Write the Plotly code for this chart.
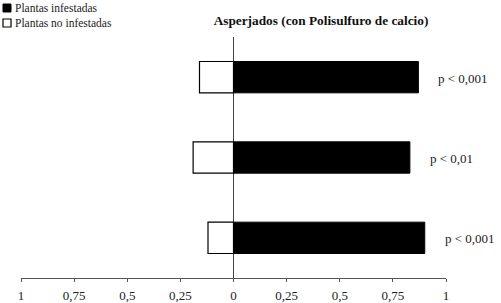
import plotly.graph_objects as go

categories = ["Muestreo 1", "Muestreo 2", "Muestreo 3"]
infestadas = [0.87, 0.83, 0.90]
no_infestadas = [0.16, 0.19, 0.12]
p_labels = ["p < 0,001", "p < 0,01", "p < 0,001"]
tick_vals = [-1, -0.75, -0.5, -0.25, 0, 0.25, 0.5, 0.75, 1]
tick_text = ["1", "0,75", "0,5", "0,25", "0", "0,25", "0,5", "0,75", "1"]
title_text = "Asperjados (con Polisulfuro de calcio)"
legend_names = ["Plantas infestadas", "Plantas no infestadas"]

FONT = "Liberation Serif"
W, H = 501, 303

fig = go.Figure()
fig.add_trace(go.Bar(
    y=categories, x=infestadas, orientation="h", name=legend_names[0],
    marker=dict(color="black", line=dict(color="black", width=1)),
    width=0.39, showlegend=False,
))
fig.add_trace(go.Bar(
    y=categories, x=[-v for v in no_infestadas], orientation="h", name=legend_names[1],
    marker=dict(color="white", line=dict(color="black", width=1.2)),
    width=0.39, showlegend=False,
))

for cat, v, lab in zip(categories, infestadas, p_labels):
    fig.add_annotation(x=v, y=cat, text=lab, showarrow=False, xanchor="left",
                       xshift=18, yshift=-1, font=dict(family=FONT, size=13, color="#222"))

# legend drawn manually (pixel positions converted to paper coords)
PL, PR, PT, PB = 21, 55, 37, 25
pw, ph = W - PL - PR, H - PT - PB
def px(x):
    return (x - PL) / pw
def py(y):
    return (H - PB - y) / ph

fig.add_shape(type="rect", xref="paper", yref="paper", x0=px(3), x1=px(11),
              y0=py(4), y1=py(12), fillcolor="black", line=dict(color="black", width=1))
fig.add_shape(type="rect", xref="paper", yref="paper", x0=px(3), x1=px(11),
              y0=py(19), y1=py(27), fillcolor="white", line=dict(color="black", width=1.2))
fig.add_annotation(xref="paper", yref="paper", x=px(13), y=py(8), text=legend_names[0],
                   showarrow=False, xanchor="left", yanchor="middle",
                   font=dict(family=FONT, size=11.5, color="#222"))
fig.add_annotation(xref="paper", yref="paper", x=px(13), y=py(23), text=legend_names[1],
                   showarrow=False, xanchor="left", yanchor="middle",
                   font=dict(family=FONT, size=11.5, color="#222"))

fig.update_layout(
    width=W, height=H,
    margin=dict(l=PL, r=PR, t=PT, b=PB, autoexpand=False),
    paper_bgcolor="white", plot_bgcolor="white",
    barmode="relative",
    font=dict(family=FONT, size=12, color="#222"),
    title=dict(text="<b>" + title_text + "</b>", x=321/W, xanchor="center",
               y=1 - 20/H, yanchor="middle", font=dict(family=FONT, size=13.3, color="#111")),
)
fig.update_xaxes(
    range=[-1, 1], tickvals=tick_vals, ticktext=tick_text, automargin=False,
    showline=True, linecolor="#555", linewidth=1,
    ticks="outside", ticklen=3, tickcolor="#555",
    showgrid=False, zeroline=True, zerolinecolor="#444", zerolinewidth=1,
    tickfont=dict(family=FONT, size=13, color="#222"),
    ticklabelstandoff=2,
)
fig.update_yaxes(
    categoryorder="array", categoryarray=categories, range=[2.5, -0.5], automargin=False,
    showticklabels=False, showgrid=False, zeroline=False, showline=False, ticks="",
)

fig.write_html("out.html", config={"displayModeBar": False},
               post_script="document.body.style.margin='0';")
